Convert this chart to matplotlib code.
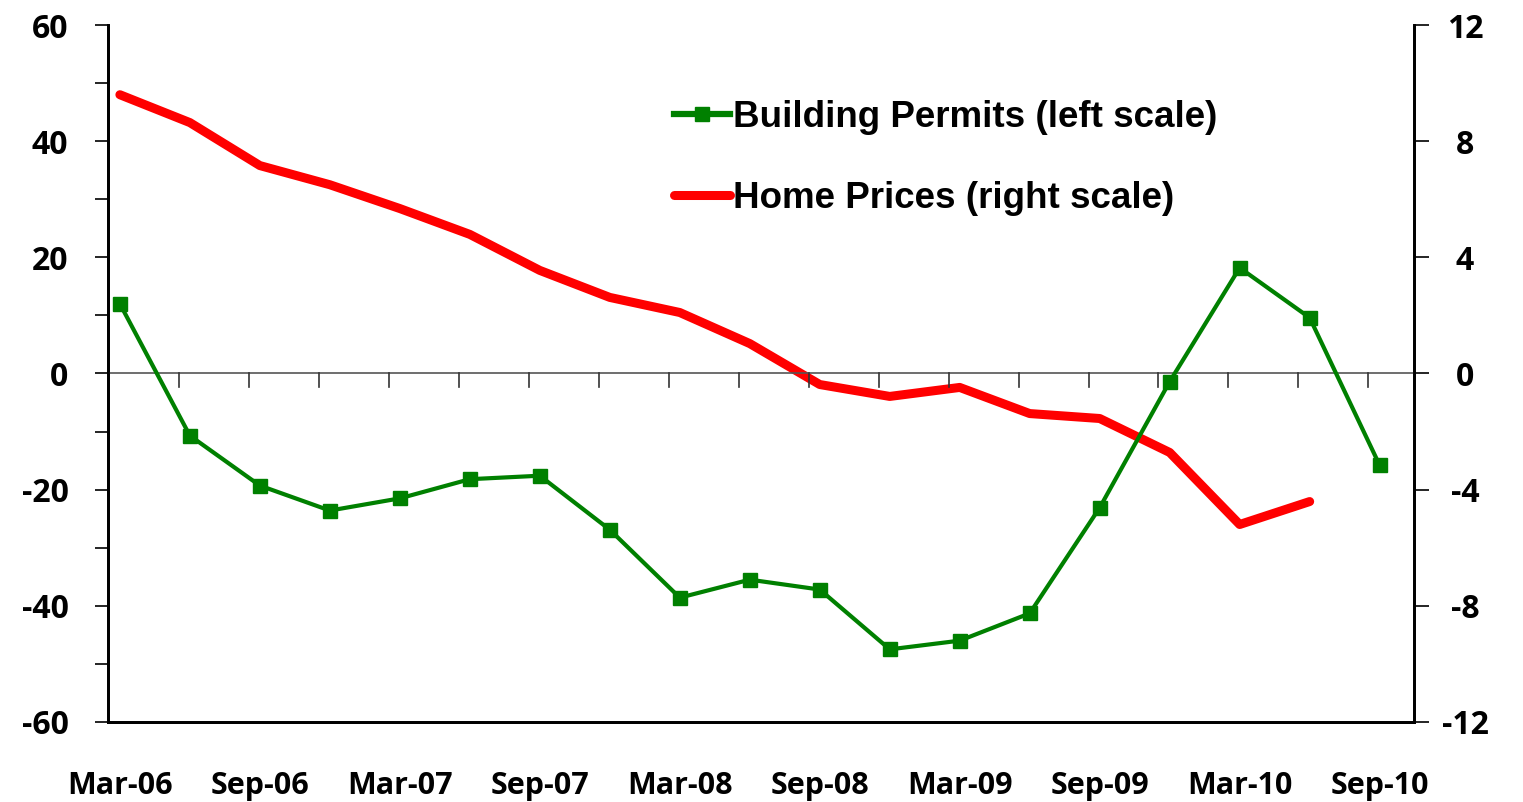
import numpy as np
from matplotlib import pyplot as plt

# quarterly data, Mar-06 .. Sep-10
quarters = ['Mar-06', 'Jun-06', 'Sep-06', 'Dec-06', 'Mar-07', 'Jun-07', 'Sep-07', 'Dec-07',
            'Mar-08', 'Jun-08', 'Sep-08', 'Dec-08', 'Mar-09', 'Jun-09', 'Sep-09', 'Dec-09',
            'Mar-10', 'Jun-10', 'Sep-10']
permits = [12.0, -10.7, -19.3, -23.6, -21.5, -18.2, -17.6, -26.9, -38.6, -35.5,
           -37.2, -47.5, -46.0, -41.3, -23.1, -1.4, 18.2, 9.6, -15.8]
prices = [9.6, 8.64, 7.16, 6.5, 5.68, 4.79, 3.55, 2.62, 2.1, 1.03,
          -0.38, -0.79, -0.48, -1.38, -1.55, -2.72, -5.2, -4.41]

left_ticks = [60, 40, 20, 0, -20, -40, -60]
right_ticks = [12, 8, 4, 0, -4, -8, -12]

tick_font = 'Open Sans'
x = np.arange(len(quarters))

fig = plt.figure(figsize=(15.23, 8.02), dpi=100)
ax = fig.add_axes([0.0709, 0.0998, 0.8575, 0.869])
ax2 = ax.twinx()
ax.set_zorder(2)
ax.patch.set_visible(False)

# red line on the right scale (drawn below the green one)
ax2.plot(np.arange(len(prices)), prices, color='#ff0000', lw=6.5,
         solid_capstyle='round', solid_joinstyle='round', label='Home Prices (right scale)')
ax2.set_ylim(-12, 12)
ax2.set_yticks(right_ticks)
ax2.set_yticklabels([str(t) for t in right_ticks], fontsize=23, fontweight='bold',
                    family=tick_font, ha='center')
ax2.tick_params(axis='y', length=10.8, width=1.2, pad=26)

ax.axhline(0, color='#555555', lw=1.2, zorder=1)
ax.plot(x, permits, color='#008000', lw=3, marker='s', markersize=9.5,
        label='Building Permits (left scale)', zorder=3)
ax.set_ylim(-60, 60)
ax.set_xlim(-0.17, 18.49)
ax.set_yticks(left_ticks)
ax.set_yticks(np.arange(-50, 60, 20), minor=True)
ax.set_yticklabels([str(t) for t in left_ticks], fontsize=23, fontweight='bold', family=tick_font)
ax.tick_params(axis='y', which='both', length=9.5, width=1.2, pad=19)

# category labels every second quarter, small ticks on the zero line
ax.set_xticks(x[::2])
ax.set_xticklabels(quarters[::2], fontsize=22, fontweight='bold', family=tick_font)
ax.tick_params(axis='x', length=0, pad=35)
for k in range(1, len(quarters)):
    ax.plot([k - 0.16, k - 0.16], [0, -2.3], color='#333333', lw=1.2, zorder=1)

for a in (ax, ax2):
    for s in a.spines.values():
        s.set_linewidth(2)
    a.spines['top'].set_visible(False)

h1, l1 = ax.get_legend_handles_labels()
h2, l2 = ax2.get_legend_handles_labels()
leg = ax.legend(h1 + h2, l1 + l2, loc='upper left', bbox_to_anchor=(0.421, 0.917),
                bbox_transform=fig.transFigure, frameon=False, numpoints=1,
                handlelength=1.5, handletextpad=0.1, labelspacing=1.25,
                prop={'family': 'Liberation Sans', 'weight': 'bold', 'size': 26.5})
leg.get_lines()[0].set_linewidth(4.5)

fig.savefig('out.png', dpi=100)
